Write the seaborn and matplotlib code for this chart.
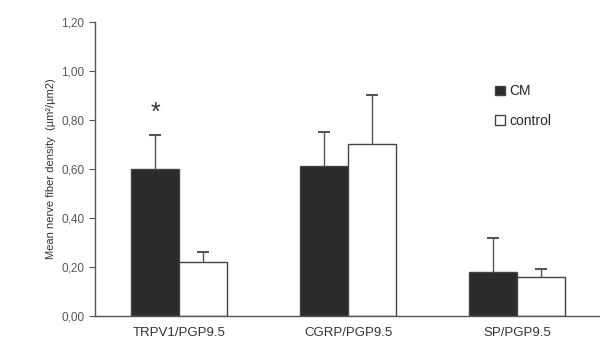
import matplotlib
matplotlib.use("Agg")
import matplotlib.pyplot as plt
from matplotlib.patches import Patch
import numpy as np
import pandas as pd
import seaborn as sns

# data
groups = ["TRPV1/PGP9.5", "CGRP/PGP9.5", "SP/PGP9.5"]
cm_mean = [0.60, 0.61, 0.18]
cm_err = [0.14, 0.14, 0.14]
ctrl_mean = [0.22, 0.70, 0.16]
ctrl_err = [0.04, 0.20, 0.03]
yticks = [0.0, 0.2, 0.4, 0.6, 0.8, 1.0, 1.2]

df = pd.DataFrame({
    "group": groups * 2,
    "cond": ["CM"] * 3 + ["control"] * 3,
    "value": cm_mean + ctrl_mean,
})

sns.set_style("white")
plt.rcParams["font.family"] = ["Liberation Sans", "DejaVu Sans"]

fig = plt.figure(figsize=(6, 3.4), dpi=100)
ax = fig.add_axes([0.158, 0.0706, 0.845, 0.865])

sns.barplot(data=df, x="group", y="value", hue="cond", order=groups,
            hue_order=["CM", "control"], palette=["#2b2b2b", "#ffffff"],
            width=0.57, errorbar=None, edgecolor="#444444", linewidth=1.0,
            legend=False, ax=ax)

# upward-only error bars placed on the bar patches
bars = [p for p in ax.patches if p.get_width() > 0]
errs = cm_err + ctrl_err
vals = cm_mean + ctrl_mean
for p, v, e in zip(bars, vals, errs):
    xc = p.get_x() + p.get_width() / 2
    _, caps, _ = ax.errorbar(xc, v, yerr=[[0], [e]], fmt="none", ecolor="#555555",
                             elinewidth=1.0, capsize=4, capthick=1.5)
    caps[0].set_visible(False)  # no cap at bar top

# significance mark
p0 = bars[0]
ax.text(p0.get_x() + p0.get_width() / 2, cm_mean[0] + cm_err[0] + 0.04, "*",
        ha="center", va="bottom", fontsize=18, color="#333333")

ax.set_xlim(-0.5, 2.5)
ax.set_ylim(0, 1.2)
ax.set_yticks(yticks)
ax.set_yticklabels([f"{t:.2f}".replace(".", ",") for t in yticks],
                   fontsize=8.5, color="#555555")
ax.set_xticks([0.5, 1.5], minor=True)
ax.tick_params(axis="x", which="major", length=0, labelsize=9.5, labelcolor="#333333", pad=8)
ax.tick_params(axis="x", which="minor", length=3, color="#555555", direction="out")
ax.tick_params(axis="y", length=4, color="#555555", direction="out", left=True)
ax.set_xlabel("")
ax.set_ylabel("Mean nerve fiber density  (µm²/µm2)", fontsize=8, color="#333333")
sns.despine(ax=ax)
for s in ["left", "bottom"]:
    ax.spines[s].set_color("#555555")
    ax.spines[s].set_linewidth(1.0)

# legend squares
handles = [Patch(facecolor="#2b2b2b", edgecolor="#444444"),
           Patch(facecolor="white", edgecolor="#444444")]
ax.legend(handles, ["CM", "control"], loc="upper left",
          bbox_to_anchor=(0.765, 0.83), frameon=False, fontsize=10,
          handlelength=0.7, handleheight=0.7, handletextpad=0.3,
          labelspacing=1.1)

fig.savefig("out.png", dpi=100)
